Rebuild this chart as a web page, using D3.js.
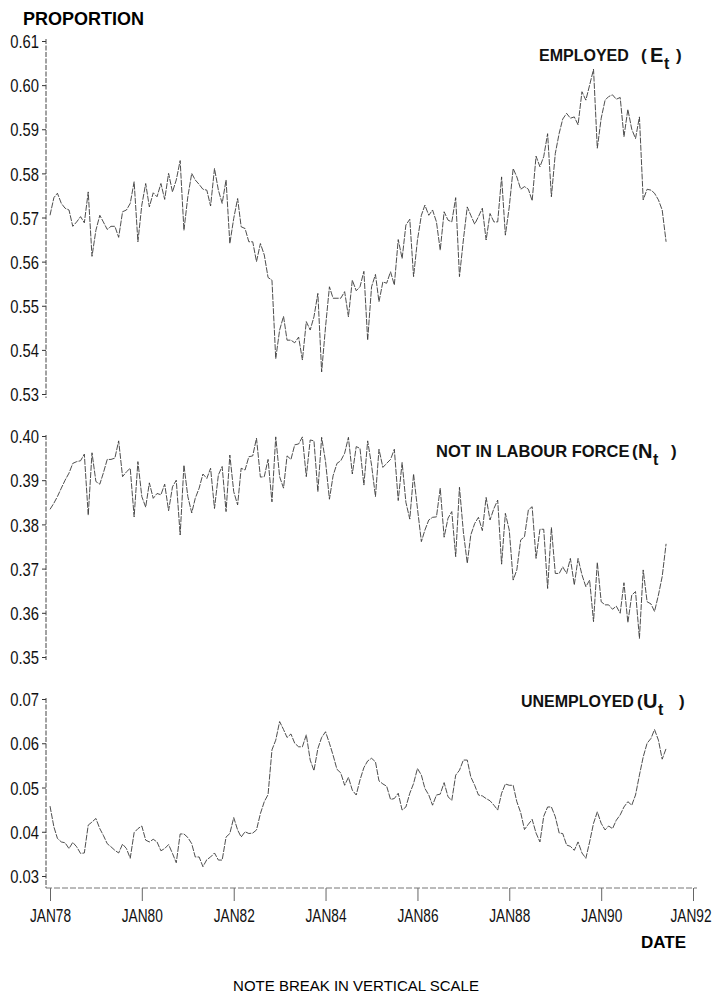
<!DOCTYPE html>
<html>
<head>
<meta charset="utf-8">
<script src="https://cdn.jsdelivr.net/npm/d3@7"></script>
<style>
  body { margin: 0; background: #fff; }
  svg { display: block; font-family: "Liberation Sans", Arial, sans-serif; }
  .tick text { font-family: "Liberation Sans", Arial, sans-serif; fill: #111; }
</style>
</head>
<body>
<div id="container"></div>
<script>
const width = 712;
const height = 1002;

// monthly data, Jan 1978 .. Jun 1991
const startYear = 1978;

const employed = [
  .5705,.5745,.5755,.5732,.5721,.5717,.5680,.5690,.5702,.5688,
  .5758,.5612,.5671,.5705,.5690,.5673,.5680,.5680,.5655,.5713,
  .5717,.5732,.5781,.5645,.5728,.5777,.5724,.5756,.5747,.5777,
  .5741,.5800,.5758,.5785,.5829,.5671,.5747,.5800,.5785,.5775,
  .5764,.5762,.5726,.5811,.5762,.5732,.5785,.5641,.5698,.5743,
  .5679,.5675,.5645,.5645,.5600,.5641,.5615,.5564,.5558,.5380,
  .5445,.5476,.5422,.5422,.5416,.5429,.5377,.5464,.5445,.5475,
  .5528,.5350,.5452,.5543,.5517,.5517,.5517,.5532,.5475,.5558,
  .5534,.5543,.5578,.5422,.5543,.5571,.5509,.5554,.5551,.5577,
  .5547,.5650,.5607,.5683,.5696,.5566,.5649,.5705,.5728,.5705,
  .5717,.5690,.5626,.5713,.5694,.5690,.5745,.5566,.5649,.5724,
  .5705,.5685,.5702,.5721,.5649,.5709,.5690,.5690,.5792,.5660,
  .5724,.5811,.5792,.5764,.5770,.5764,.5738,.5839,.5815,.5838,
  .5890,.5747,.5845,.5891,.5923,.5936,.5925,.5928,.5910,.5985,
  .5966,.6000,.6036,.5857,.5925,.5966,.5974,.5978,.5968,.5972,
  .5883,.5945,.5900,.5879,.5928,.5740,.5764,.5762,.5755,.5740,
  .5717,.5645
];

const notInLabour = [
  .3834,.3848,.3863,.3882,.3900,.3916,.3938,.3942,.3944,.3959,
  .3821,.3962,.3897,.3891,.3916,.3947,.3947,.3950,.3989,.3908,
  .3919,.3927,.3817,.3942,.3863,.3839,.3894,.3859,.3870,.3867,
  .3891,.3831,.3885,.3900,.3776,.3934,.3863,.3826,.3859,.3882,
  .3914,.3904,.3927,.3836,.3912,.3931,.3829,.3957,.3874,.3844,
  .3927,.3923,.3953,.3955,.3995,.3907,.3908,.3947,.3851,.3998,
  .3908,.3882,.3955,.3947,.3980,.3982,.3998,.3908,.3991,.3989,
  .3874,.3997,.3942,.3857,.3910,.3938,.3944,.3961,.3997,.3914,
  .3976,.3972,.3889,.3989,.3934,.3863,.3970,.3929,.3938,.3947,
  .3970,.3854,.3940,.3850,.3812,.3914,.3836,.3761,.3787,.3810,
  .3816,.3817,.3882,.3771,.3814,.3829,.3727,.3884,.3783,.3712,
  .3776,.3802,.3816,.3786,.3861,.3810,.3836,.3855,.3710,.3825,
  .3787,.3674,.3697,.3765,.3772,.3833,.3840,.3723,.3789,.3789,
  .3655,.3793,.3689,.3689,.3704,.3689,.3723,.3663,.3723,.3686,
  .3659,.3674,.3580,.3714,.3625,.3618,.3618,.3608,.3615,.3599,
  .3668,.3578,.3640,.3648,.3542,.3697,.3625,.3620,.3603,.3640,
  .3682,.3756
];

const unemployed = [
  .0458,.0411,.0385,.0377,.0375,.0362,.0376,.0366,.0351,.0352,
  .0415,.0422,.0430,.0407,.0392,.0373,.0366,.0358,.0352,.0372,
  .0362,.0340,.0398,.0407,.0413,.0381,.0377,.0383,.0377,.0357,
  .0362,.0371,.0351,.0330,.0395,.0395,.0387,.0373,.0343,.0343,
  .0321,.0337,.0343,.0352,.0336,.0336,.0388,.0396,.0432,.0404,
  .0388,.0400,.0396,.0397,.0404,.0441,.0468,.0484,.0585,.0607,
  .0649,.0631,.0613,.0621,.0600,.0592,.0592,.0619,.0562,.0538,
  .0588,.0613,.0626,.0600,.0573,.0541,.0533,.0505,.0523,.0494,
  .0483,.0517,.0545,.0560,.0566,.0558,.0515,.0508,.0503,.0473,
  .0475,.0487,.0449,.0456,.0487,.0509,.0543,.0528,.0498,.0483,
  .0460,.0483,.0485,.0511,.0479,.0471,.0528,.0539,.0562,.0562,
  .0524,.0505,.0483,.0481,.0475,.0470,.0460,.0449,.0487,.0508,
  .0505,.0505,.0468,.0443,.0405,.0417,.0428,.0397,.0377,.0435,
  .0456,.0456,.0434,.0397,.0396,.0370,.0367,.0358,.0377,.0352,
  .0340,.0377,.0419,.0445,.0419,.0404,.0413,.0407,.0426,.0438,
  .0456,.0468,.0460,.0483,.0528,.0569,.0600,.0611,.0631,.0607,
  .0564,.0588
];

const employedTicks = [0.53, 0.54, 0.55, 0.56, 0.57, 0.58, 0.59, 0.60, 0.61];
const notInLabourTicks = [0.35, 0.36, 0.37, 0.38, 0.39, 0.40];
const unemployedTicks = [0.03, 0.04, 0.05, 0.06, 0.07];
const xTickYears = [1978, 1980, 1982, 1984, 1986, 1988, 1990, 1992];
const xTickLabels = ['JAN78', 'JAN80', 'JAN82', 'JAN84', 'JAN86', 'JAN88', 'JAN90', 'JAN92'];

const axisX = 46;      // where the vertical axis sits
const baseY = 888;     // horizontal axis
const squeeze = 0.8;   // tick labels are a tall narrow face

const svg = d3.select('#container')
  .append('svg')
  .attr('width', width)
  .attr('height', height);

svg.append('rect').attr('width', width).attr('height', height).attr('fill', '#fff');

var xScale = d3.scaleTime()
  .domain([new Date(1978, 0, 1), new Date(1992, 0, 1)])
  .range([50, 693]);

// three separate vertical scales, the chart breaks between them
var yE = d3.scaleLinear().domain([0.53, 0.61]).range([394, 41]);
var yN = d3.scaleLinear().domain([0.35, 0.40]).range([657, 436]);
var yU = d3.scaleLinear().domain([0.03, 0.07]).range([876, 699]);

const dateOf = (i) => new Date(startYear, i, 1);

function drawYAxis(scale, ticks, y0, y1) {
  var g = svg.append('g')
    .attr('transform', 'translate(' + axisX + ',0)')
    .call(d3.axisLeft(scale).tickValues(ticks).tickSize(4).tickSizeOuter(0).tickFormat(d3.format('.2f')));
  g.select('.domain').remove();
  g.selectAll('.tick line').attr('stroke', '#333').attr('stroke-width', 1);
  g.selectAll('.tick text')
    .attr('x', -7 / squeeze)
    .attr('dy', '0.36em')
    .attr('transform', 'scale(' + squeeze + ',1)')
    .style('font-size', '18.5px');
  g.append('line')
    .attr('x1', 0).attr('x2', 0)
    .attr('y1', y0).attr('y2', y1)
    .attr('stroke', '#444')
    .attr('stroke-width', 1)
    .attr('stroke-dasharray', '5,1.5');
}

drawYAxis(yE, employedTicks, 39, 398);
drawYAxis(yN, notInLabourTicks, 435, 660);
drawYAxis(yU, unemployedTicks, 698, baseY);

// bottom axis
var xAxis = d3.axisBottom(xScale)
  .tickValues(xTickYears.map((y) => new Date(y, 0, 1)))
  .tickSize(13)
  .tickSizeOuter(0)
  .tickFormat((d, i) => xTickLabels[i]);

var gx = svg.append('g')
  .attr('transform', 'translate(0,' + baseY + ')')
  .call(xAxis);
gx.select('.domain').remove();
gx.selectAll('.tick line').attr('stroke', '#666');
gx.selectAll('.tick text')
  .attr('y', 21)
  .attr('dy', '0.71em')
  .attr('x', 0)
  .attr('transform', 'scale(0.74,1)')
  .style('font-size', '18.5px');
// the last label sits against the right edge of the page
gx.selectAll('.tick text').filter((d, i) => i === xTickLabels.length - 1)
  .attr('text-anchor', 'end')
  .attr('x', 18 / 0.74);
gx.append('line')
  .attr('x1', axisX).attr('x2', 697)
  .attr('y1', 0).attr('y2', 0)
  .attr('stroke', '#777')
  .attr('stroke-width', 1)
  .attr('stroke-dasharray', '6,2');

// the three series
const series = [
  { values: employed, y: yE },
  { values: notInLabour, y: yN },
  { values: unemployed, y: yU }
];

series.forEach(function (s) {
  var line = d3.line()
    .x((d, i) => xScale(dateOf(i)))
    .y((d) => s.y(d));
  svg.append('path')
    .datum(s.values)
    .attr('fill', 'none')
    .attr('stroke', '#3a3a3a')
    .attr('stroke-width', 0.9)
    .attr('stroke-dasharray', '6,1.2')
    .attr('d', line);
});

// titles
svg.append('text')
  .attr('x', 23).attr('y', 25)
  .style('font-size', '18px')
  .style('font-weight', 'bold')
  .text('PROPORTION');

function seriesLabel(main, x, y, size, parenX, letter, letterX, tX, closeX) {
  var t = svg.append('g').style('font-weight', 'bold').attr('fill', '#111');
  t.append('text').attr('x', x).attr('y', y).style('font-size', size + 'px').text(main);
  t.append('text').attr('x', parenX).attr('y', y).style('font-size', '17px').text('(');
  t.append('text').attr('x', letterX).attr('y', y + 1).style('font-size', '20px').text(letter);
  t.append('text').attr('x', tX).attr('y', y + 8).style('font-size', '16px').text('t');
  t.append('text').attr('x', closeX).attr('y', y).style('font-size', '17px').text(')');
}

seriesLabel('EMPLOYED', 539, 61, 16, 641, 'E', 650, 664, 676);
seriesLabel('NOT IN LABOUR FORCE', 436, 457, 16.5, 632, 'N', 638, 653, 671);
seriesLabel('UNEMPLOYED', 521, 707, 16, 637, 'U', 643, 658, 679);

svg.append('text')
  .attr('x', 641).attr('y', 948)
  .style('font-size', '17px')
  .style('font-weight', 'bold')
  .text('DATE');

svg.append('text')
  .attr('x', 356).attr('y', 991)
  .attr('text-anchor', 'middle')
  .style('font-size', '15px')
  .text('NOTE BREAK IN VERTICAL SCALE');
</script>
</body>
</html>
